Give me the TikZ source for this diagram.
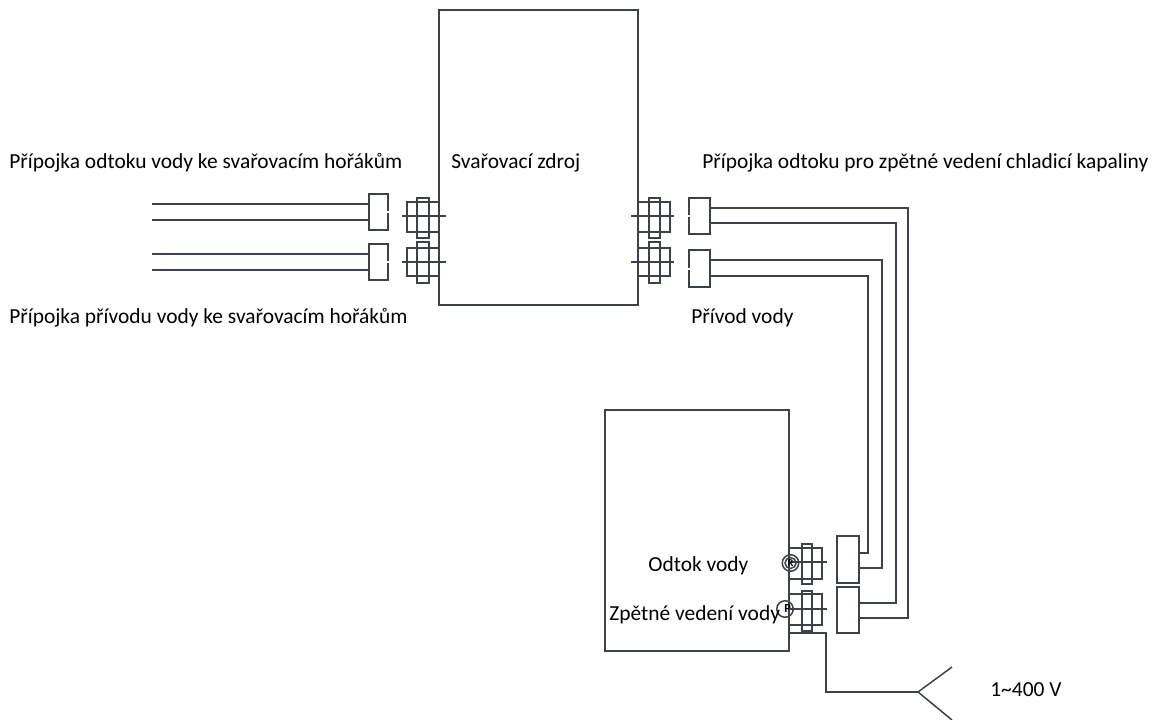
\documentclass[tikz,border=0pt]{standalone}
\usepackage{fontspec}
\setmainfont{Carlito}
\usepackage{tikz}
\usetikzlibrary{positioning}
\tikzset{
  line/.style={draw=linegray, line width=0.85pt},
  pipe/.style={line, line join=miter},
  label/.style={inner sep=0pt, anchor=base west, font=\fontsize{12.2pt}{14pt}\selectfont},
  unit/.style={line, minimum width=#1, inner sep=0pt, outer sep=0pt},
  gap/.style={draw=white, line width=1pt}
}
\definecolor{linegray}{HTML}{3C4248}
\begin{document}
\begin{tikzpicture}[x=0.02cm,y=-0.02cm]
\useasboundingbox (0,0) rectangle (1153,720);
% main boxes
\node[line, inner sep=0pt, outer sep=0pt, minimum width=3.98cm, minimum height=5.9cm] (source) at (538.5,157.5) {};
\node[line, inner sep=0pt, outer sep=0pt, minimum width=3.68cm, minimum height=4.82cm] (cooler) at (697,530.5) {};
% couplings on the source
\foreach \name/\xa/\xb/\xc/\xd/\ya/\yb/\yc/\yd/\ym/\xl/\xr in {
  cla/407/439/417/429/202/232/198/238/216/402/446,
  clb/407/439/417/429/248/276/242/283/262/402/446,
  cra/638/670/649/660/202/232/198/238/216/631/674,
  crb/638/670/649/660/248/276/242/283/262/631/674,
  cca/789/822/802/812/548/579/544/584/562/789/827,
  ccb/789/822/802/812/594/625/591/631/609/789/827}{
  \draw[line] (\xa,\ya) rectangle (\xb,\yb);
  \draw[line] (\xc,\yc) rectangle (\xd,\yd);
  \draw[line] (\xl,\ym) -- (\xr,\ym);
}
% hose ends
\node[unit=0.38cm, minimum height=0.72cm] (hoseA) at (378.5,212) {};
\node[unit=0.38cm, minimum height=0.72cm] (hoseB) at (378.5,262) {};
\node[unit=0.42cm, minimum height=0.72cm] (hoseC) at (699.5,216) {};
\node[unit=0.42cm, minimum height=0.74cm] (hoseD) at (699.5,268.5) {};
\node[unit=0.44cm, minimum height=0.94cm] (hoseE) at (848,559.5) {};
\node[unit=0.44cm, minimum height=0.92cm] (hoseF) at (848,610) {};
\draw[gap] (hoseA.east) ++(0,-1) -- ++(0,2);
\draw[gap] (hoseB.east) ++(0,-1) -- ++(0,2);
\draw[gap] (hoseC.west) ++(0,-1) -- ++(0,2);
\draw[gap] (hoseD.west) ++(0,-1) -- ++(0,2);
% pipes
\coordinate (endA) at (152,204);
\coordinate (endB) at (152,220);
\coordinate (endC) at (152,254);
\coordinate (endD) at (152,270);
\draw[pipe] (endA) -- (endA -| hoseA.west);
\draw[pipe] (endB) -- (endB -| hoseA.west);
\draw[pipe] (endC) -- (endC -| hoseB.west);
\draw[pipe] (endD) -- (endD -| hoseB.west);
\coordinate (outA) at (710,208);
\coordinate (outB) at (710,223);
\coordinate (outC) at (710,260);
\coordinate (outD) at (710,276);
\coordinate (inA) at (859,618);
\coordinate (inB) at (859,603);
\coordinate (inC) at (859,568);
\coordinate (inD) at (859,553);
\draw[pipe] (outA) -- ++(198,0) |- (inA);
\draw[pipe] (outB) -- ++(186,0) |- (inB);
\draw[pipe] (outC) -- ++(172,0) |- (inC);
\draw[pipe] (outD) -- ++(158,0) |- (inD);
% mains cable
\coordinate (cableA) at (789,633);
\coordinate (fork) at (918,692);
\coordinate (forkA) at (952,667);
\coordinate (forkB) at (952,720);
\draw[pipe] (cableA) -- ++(37,0) |- (fork);
\draw[pipe] (forkA) -- (fork) -- (forkB);
% port symbols
\node[line, circle, minimum size=0.33cm, inner sep=0pt] (portR) at (790.5,563) {};
\node[line, circle, minimum size=0.22cm, inner sep=0pt, font=\fontsize{6pt}{6pt}\selectfont\bfseries] (portRin) at (790.5,563) {R};
\node[line, circle, minimum size=0.33cm, inner sep=0pt, font=\fontsize{7pt}{7pt}\selectfont\bfseries] (portP) at (785,609) {\hspace{3pt}P};
% labels
\node[label] (t1) at (9,168) {Přípojka odtoku vody ke svařovacím hořákům};
\node[label] (t2) at (9,323) {Přípojka přívodu vody ke svařovacím hořákům};
\node[label] (t3) at (451,168) {Svařovací zdroj};
\node[label] (t4) at (702,168) {Přípojka odtoku pro zpětné vedení chladicí kapaliny};
\node[label] (t5) at (691,323) {Přívod vody};
\node[label] (t6) at (648,571) {Odtok vody};
\node[label] (t7) at (609,620.5) {Zpětné vedení vody};
\node[label] (t8) at (990,696) {1\textasciitilde400 V};
\end{tikzpicture}
\end{document}
